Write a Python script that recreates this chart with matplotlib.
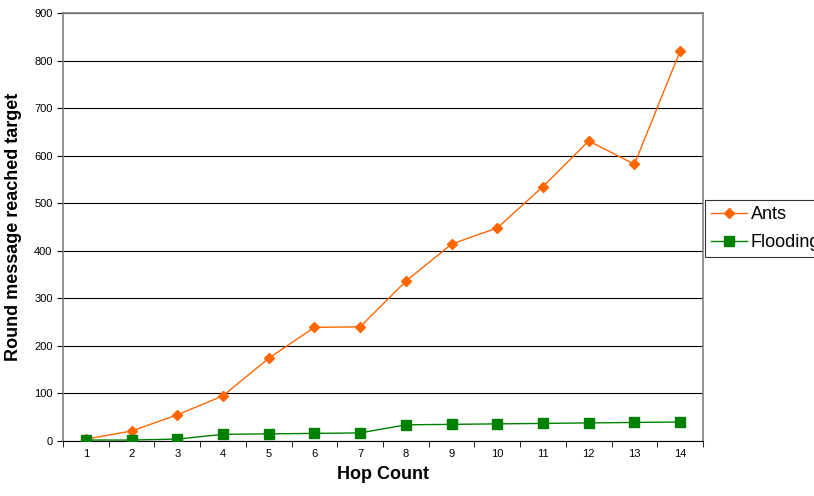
import matplotlib
matplotlib.use('Agg')
import matplotlib.pyplot as plt
from matplotlib.ticker import MultipleLocator, FixedLocator

plt.rcParams['font.family'] = ['Liberation Sans', 'DejaVu Sans']

hops = list(range(1, 15))
ants = [4, 21, 55, 95, 174, 239, 240, 336, 414, 448, 535, 631, 582, 820]
flooding = [2, 2, 4, 14, 15, 16, 17, 34, 35, 36, 37, 38, 39, 40]

fig = plt.figure(figsize=(8.14, 4.96), dpi=100)
ax = fig.add_axes([0.0774, 0.1109, 0.7862, 0.8629])

ax.plot(hops, ants, color='#FF6600', lw=1.0, marker='D', ms=5.5,
        mec='#FF6600', mfc='#FF6600', label='Ants', zorder=3)
ax.plot(hops, flooding, color='#008000', lw=1.0, marker='s', ms=7,
        mec='#008000', mfc='#008000', label='Flooding', zorder=3)

ax.set_xlim(0.5, 14.5)
ax.set_ylim(0, 900)
ax.yaxis.set_major_locator(MultipleLocator(100))
ax.set_xticks(hops)
ax.xaxis.set_minor_locator(FixedLocator([h + 0.5 for h in range(0, 15)]))
ax.tick_params(axis='x', which='major', length=0, labelsize=8, pad=6)
ax.tick_params(axis='x', which='minor', length=4, direction='out', color='black')
ax.tick_params(axis='y', length=4, direction='out', labelsize=8, color='black')

ax.grid(axis='y', color='black', lw=0.8)
ax.set_axisbelow(True)
for s in ['top', 'right', 'left']:
    ax.spines[s].set_color('#808080')
    ax.spines[s].set_linewidth(1.2)
ax.spines['bottom'].set_color('black')

ax.set_xlabel('Hop Count', fontsize=13, fontweight='bold', labelpad=5)
ax.set_ylabel('Round message reached target', fontsize=13, fontweight='bold', labelpad=9)

# legend sits at the figure's right edge, cut off like the original
leg = fig.legend(loc='upper left', bbox_to_anchor=(0.866, 0.597), fontsize=13,
                 frameon=True, fancybox=False, edgecolor='black',
                 handlelength=2.0, borderpad=0.35, labelspacing=0.6,
                 handletextpad=0.2, borderaxespad=0)
leg.get_frame().set_linewidth(0.8)

fig.savefig('out.png', dpi=100)
